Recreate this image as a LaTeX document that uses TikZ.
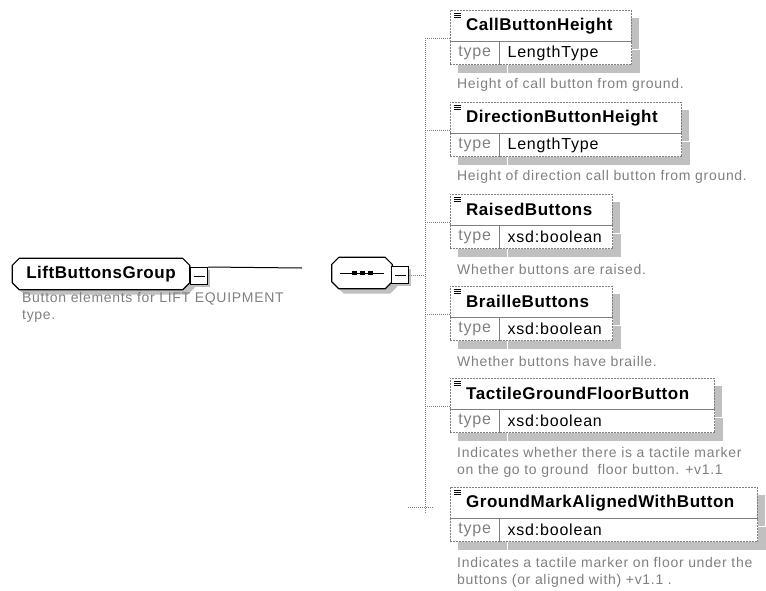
\documentclass[tikz,border=0pt]{standalone}
\usepackage{fontspec}
\setmainfont{Liberation Sans}
\usetikzlibrary{shadows}

\newfontfamily\ttlfam[LetterSpace=3]{Liberation Sans}
\newfontfamily\valfam[LetterSpace=5]{Liberation Sans}
\newfontfamily\descfam[LetterSpace=5]{Liberation Sans}
\newcommand{\ttlfont}{\ttlfam\bfseries\fontsize{17}{19}\selectfont}
\newcommand{\valfont}{\valfam\fontsize{16}{18}\selectfont}
\newcommand{\descfont}{\descfam\fontsize{14}{17}\selectfont}

\definecolor{lineg}{RGB}{128,128,128}
\definecolor{descg}{RGB}{128,128,128}
\definecolor{shadowg}{RGB}{192,192,192}

\tikzset{
    grp/.style={inner sep=0pt, font=\ttlfont},
    % octagon round node #1, moved by the shifts in #2
    octpath/.style 2 args={insert path={([#2,xshift=7pt]#1.north west)
        -- ([#2,xshift=-7pt]#1.north east)
        -- ([#2,yshift=-7pt]#1.north east) -- ([#2,yshift=7pt]#1.south east)
        -- ([#2,xshift=-7pt]#1.south east) -- ([#2,xshift=7pt]#1.south west)
        -- ([#2,yshift=7pt]#1.south west) -- ([#2,yshift=-7pt]#1.north west) -- cycle}},
    minus/.style={draw, line width=1pt, fill=white, minimum size=17pt, inner sep=0pt,
        drop shadow={shadow xshift=2pt, shadow yshift=-2pt, fill=shadowg, opacity=1},
        path picture={\draw[line width=0.9pt] ([xshift=3pt]path picture bounding box.west)
            -- ([xshift=-3pt]path picture bounding box.east);}},
    ttl/.style={draw=lineg, dash pattern=on 2pt off 1pt, fill=white, anchor=north west,
        minimum height=31pt, inner xsep=16pt, inner ysep=0pt, align=left, font=\ttlfont,
        drop shadow={shadow xshift=8pt, shadow yshift=-8pt, fill=shadowg, opacity=1}},
    tkey/.style={draw=lineg, dash pattern=on 2pt off 1pt, fill=white, anchor=north west,
        minimum width=49pt, minimum height=23pt, inner sep=0pt, text=descg, font=\valfont,
        drop shadow={shadow xshift=8pt, shadow yshift=-8pt, fill=shadowg, opacity=1}},
    tval/.style={draw=lineg, dash pattern=on 2pt off 1pt, fill=white, anchor=north west,
        minimum height=23pt, inner xsep=8pt, inner ysep=0pt, align=left, font=\valfont,
        drop shadow={shadow xshift=8pt, shadow yshift=-8pt, fill=shadowg, opacity=1}},
    sep/.style={draw=lineg, line width=0.6pt},
    desc/.style={anchor=west, inner sep=0pt, align=left, text=descg, font=\descfont},
    conn/.style={draw=lineg, line width=0.6pt, dash pattern=on 1pt off 1pt},
    link/.style={draw, line width=1pt},
    icon/.style={draw, line width=0.7pt}
}

\begin{document}
\begin{tikzpicture}[x=1pt, y=-1pt]
    \useasboundingbox[fill=white] (0,0) rectangle (766,590);

    % group and its sequence
    \node[grp, minimum width=177pt, minimum height=31pt] (grp-s) at (106,279) {};
    \fill[shadowg, octpath={grp-s}{}];
    \filldraw[fill=white, line width=1.2pt, octpath={grp-s}{xshift=-5pt,yshift=5pt}];
    \node[grp, minimum width=177pt, minimum height=31pt] (grp) at (101,274) {LiftButtonsGroup};
    \node[minus] (grpm) at (199,276) {};
    \node[desc] (grpd) at (22,307) {Button elements for LIFT EQUIPMENT\\type.};
    \coordinate (lgend) at (302,268);
    \draw[link] (grpm.north east) -- (lgend);

    \node[grp, minimum width=60pt, minimum height=31pt] (seq-s) at (367,278) {};
    \fill[shadowg, octpath={seq-s}{}];
    \filldraw[fill=white, line width=1.2pt, octpath={seq-s}{xshift=-5pt,yshift=5pt}];
    \node[grp, minimum width=60pt, minimum height=31pt] (seq) at (362,273) {};
    \draw[line width=0.9pt] ([xshift=8pt]seq.west) -- ([xshift=-8pt]seq.east);
    \foreach \d in {-8,0,8}
        \fill ([xshift=\d pt]seq.center) +(-2.5,-2) rectangle +(2.5,2);
    \node[minus] (seqm) at (400,275) {};

    % elements
    \node[ttl, text width=149pt] (call)    at (450,10)  {CallButtonHeight};
    \node[tkey] (call-k) at (call.south west) {type};
    \node[tval, minimum width=132pt, text width=116pt] (call-v) at (call-k.north east) {LengthType};

    \node[ttl, text width=199pt] (dir)     at (450,102) {DirectionButtonHeight};
    \node[tkey] (dir-k) at (dir.south west) {type};
    \node[tval, minimum width=182pt, text width=166pt] (dir-v) at (dir-k.north east) {LengthType};

    \node[ttl, text width=130pt] (raised)  at (450,194) {RaisedButtons};
    \node[tkey] (raised-k) at (raised.south west) {type};
    \node[tval, minimum width=113pt, text width=97pt] (raised-v) at (raised-k.north east) {xsd:boolean};

    \node[ttl, text width=130pt] (braille) at (450,286) {BrailleButtons};
    \node[tkey] (braille-k) at (braille.south west) {type};
    \node[tval, minimum width=113pt, text width=97pt] (braille-v) at (braille-k.north east) {xsd:boolean};

    \node[ttl, text width=232pt] (tactile) at (450,378) {TactileGroundFloorButton};
    \node[tkey] (tactile-k) at (tactile.south west) {type};
    \node[tval, minimum width=215pt, text width=199pt] (tactile-v) at (tactile-k.north east) {xsd:boolean};

    \node[ttl, text width=275pt] (ground)  at (450,487) {GroundMarkAlignedWithButton};
    \node[tkey] (ground-k) at (ground.south west) {type};
    \node[tval, minimum width=258pt, text width=242pt] (ground-v) at (ground-k.north east) {xsd:boolean};

    \foreach \n in {call,dir,raised,braille,tactile,ground} {
        \draw[icon] (\n.north west) ++(4,3) -- ++(7,0) ++(-7,2) -- ++(7,0) ++(-7,2) -- ++(7,0);
        \draw[sep] (\n-k.north west) -- (\n-v.north east);
        \draw[sep] (\n-k.north east) -- (\n-k.south east);
    }

    % descriptions
    \node[desc] (call-d)    at (457,85)  {Height of call button from ground.};
    \node[desc] (dir-d)     at (457,177) {Height of direction call button from ground.};
    \node[desc] (raised-d)  at (457,269) {Whether buttons are raised.};
    \node[desc] (braille-d) at (457,361) {Whether buttons have braille.};
    \node[desc] (tactile-d) at (457,462) {Indicates whether there is a tactile marker\\on the go to ground\ \ floor button. +v1.1};
    \node[desc] (ground-d)  at (457,572) {Indicates a tactile marker on floor under the\\buttons (or aligned with) +v1.1 .};

    % connectors
    \coordinate (spine) at (425,38);
    \coordinate (spinebot) at (425,514);
    \coordinate (gx) at (425,507);
    \draw[conn] (seqm.east) -- (seqm.east -| spine);
    \draw[conn] (spine) -- (spinebot);
    \foreach \n in {call,dir,raised,braille,tactile}
        \draw[conn] ([yshift=3pt]\n-k.north west -| spine) -- ([yshift=3pt]\n-k.north west);
    \draw[conn] ([xshift=-17pt]gx) -- ([xshift=8pt]gx);
\end{tikzpicture}
\end{document}
